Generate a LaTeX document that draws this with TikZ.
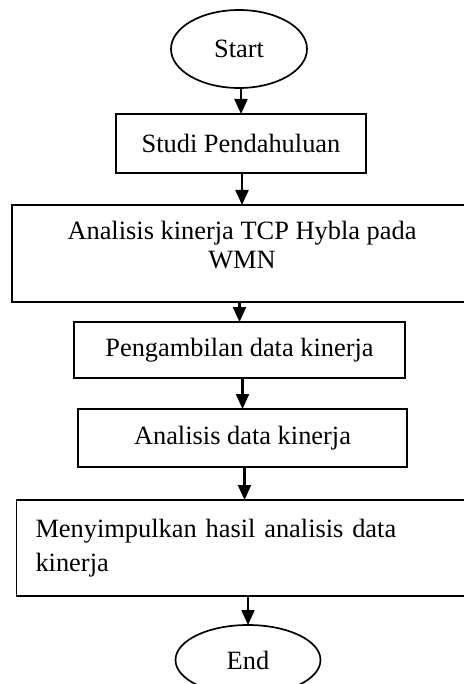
\documentclass[tikz,border=0pt]{standalone}
\usepackage{fontspec}
\setmainfont{Liberation Serif}
\usetikzlibrary{positioning,shapes.geometric,arrows.meta}

\begin{document}
\begin{tikzpicture}
\tikzstyle{every node}=[draw,line width=0.85pt,inner sep=0pt,outer sep=0pt,font=\fontsize{13.2}{14.5}\selectfont];
\tikzstyle{terminal}=[ellipse];
\tikzstyle{process}=[rectangle];
\tikzstyle{arr}=[line width=1.1pt,-{Triangle[width=6.5pt,length=7.5pt]}];
\useasboundingbox (0,0) rectangle (232pt,-342pt);
\node[terminal,minimum width=68pt,minimum height=39pt] (start) at (119.5pt,-24.5pt) {Start};
\node[process,minimum width=125pt,minimum height=29.5pt,below=13pt of start,xshift=1pt] (studi) {Studi Pendahuluan};
\node[process,minimum width=230pt,minimum height=48.5pt,align=center,text depth=9pt,below=16pt of studi,xshift=0.5pt] (analisis) {Analisis kinerja TCP Hybla pada\\WMN};
\node[process,minimum width=165.5pt,minimum height=28pt,below=10pt of analisis,xshift=-1.25pt] (ambil) {Pengambilan data kinerja};
\node[process,minimum width=164.5pt,minimum height=29pt,below=15.5pt of ambil,xshift=1.5pt] (data) {Analisis data kinerja};
\node[process,text width=209pt,inner xsep=9.5pt,minimum height=48pt,align=left,font=\fontsize{13.2}{17}\selectfont,below=16.5pt of data,xshift=1pt] (simpul) {Menyimpulkan hasil analisis data\\kinerja};
\node[terminal,minimum width=72.5pt,minimum height=35pt,below=14.5pt of simpul,xshift=1.75pt] (end) {End};
% connectors
\draw[arr] (studi.north |- start.south) -- (studi.north);
\draw[arr] (analisis.north |- studi.south) -- (analisis.north);
\draw[arr] (ambil.north |- analisis.south) -- (ambil.north);
\draw[arr] (data.north |- ambil.south) -- (data.north);
\draw[arr] (simpul.north |- data.south) -- (simpul.north);
\draw[arr] (end.north |- simpul.south) -- (end.north);
\end{tikzpicture}
\end{document}
